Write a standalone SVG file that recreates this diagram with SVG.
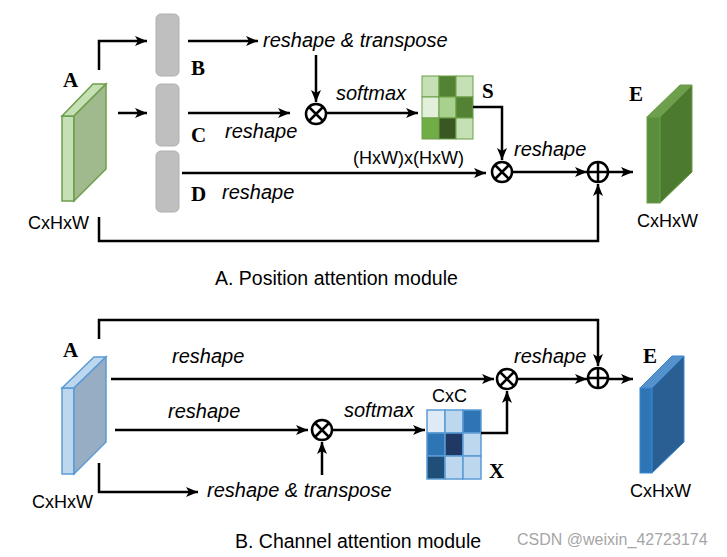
<svg xmlns="http://www.w3.org/2000/svg" width="727" height="557" viewBox="0 0 727 557">
<style>
.ln{fill:none;stroke:#000;stroke-width:2.5;marker-end:url(#ah)}
.ln0{fill:none;stroke:#000;stroke-width:2.5}
.op{fill:#fff;stroke:#000;stroke-width:2.5}
.lbl{font-family:"Liberation Serif",serif;font-weight:bold;font-size:21px;fill:#000}
.it{font-family:"Liberation Sans",Arial,sans-serif;font-style:italic;font-size:20px;fill:#000}
.tx{font-family:"Liberation Sans",Arial,sans-serif;font-size:18px;fill:#000}
.ttl{font-family:"Liberation Sans",Arial,sans-serif;font-size:19.5px;fill:#000}
.bar{fill:#bfbfbf;stroke:#b0b0b0;stroke-width:1}
.gc{stroke:#6a9f46;stroke-width:1}
.bc{stroke:#5b9bd5;stroke-width:1.5}
</style>
<defs>
<marker id="ah" markerUnits="userSpaceOnUse" markerWidth="14" markerHeight="12" refX="12" refY="5" orient="auto" overflow="visible">
<path d="M0,0 L12,5 L0,10 L3,5 z" fill="#000"/>
</marker>
</defs>
<rect width="727" height="557" fill="#fff"/>

<!-- Top module: Position attention -->
<g id="pamA">
<rect x="62" y="116" width="12" height="85" fill="#c5e0b4" stroke="#6d9e4b" stroke-width="1.5"/>
<polygon points="62,116 93,84 106,84 74,116" fill="#c5e0b4" stroke="#6d9e4b" stroke-width="1.5"/>
<polygon points="74,116 106,84 106,169 74,201" fill="#a0b98d" stroke="#6d9e4b" stroke-width="1.5"/>
<text class="lbl" x="63" y="87">A</text>
<text class="tx" x="28" y="229">CxHxW</text>
</g>
<g id="pamB">
<rect class="bar" x="156" y="14" width="23" height="62" rx="5"/>
<text class="lbl" x="191" y="75">B</text>
</g>
<g id="pamC">
<rect class="bar" x="156" y="84" width="23" height="62" rx="5"/>
<text class="lbl" x="191" y="142">C</text>
</g>
<g id="pamD">
<rect class="bar" x="156" y="151" width="23" height="61" rx="5"/>
<text class="lbl" x="191" y="201">D</text>
</g>
<g id="pamMul1">
<circle class="op" cx="316" cy="114" r="10"/>
<path class="ln0" d="M309,107 L323,121 M323,107 L309,121" stroke-width="1.8"/>
</g>
<g id="pamS">
<rect class="gc" x="422" y="76" width="17" height="21" fill="#c5e0b4"/>
<rect class="gc" x="439" y="76" width="17" height="21" fill="#548235"/>
<rect class="gc" x="456" y="76" width="17" height="21" fill="#c5e0b4"/>
<rect class="gc" x="422" y="97" width="17" height="21" fill="#e2efda"/>
<rect class="gc" x="439" y="97" width="17" height="21" fill="#a9d18e"/>
<rect class="gc" x="456" y="97" width="17" height="21" fill="#548235"/>
<rect class="gc" x="422" y="118" width="17" height="21" fill="#70ad47"/>
<rect class="gc" x="439" y="118" width="17" height="21" fill="#385723"/>
<rect class="gc" x="456" y="118" width="17" height="21" fill="#c5e0b4"/>
<text class="lbl" x="482" y="98">S</text>
</g>
<g id="pamMul2">
<circle class="op" cx="502" cy="172" r="10"/>
<path class="ln0" d="M495,165 L509,179 M509,165 L495,179" stroke-width="1.8"/>
</g>
<g id="pamAdd">
<circle class="op" cx="598" cy="172" r="10"/>
<path class="ln0" d="M588,172 H608 M598,162 V182" stroke-width="1.8"/>
</g>
<g id="pamE">
<rect x="647" y="117" width="13" height="86" fill="#5a8e3c" stroke="#6a9d48" stroke-width="1"/>
<polygon points="647,117 680,85 692,85 660,117" fill="#6d9f4c" stroke="#6a9d48" stroke-width="1"/>
<polygon points="660,117 692,85 692,172 660,203" fill="#4c7b30" stroke="#6a9d48" stroke-width="1"/>
<text class="lbl" x="629" y="101">E</text>
<text class="tx" x="637" y="227">CxHxW</text>
</g>
<g id="pamTexts">
<text class="it" x="263" y="47">reshape &amp; transpose</text>
<text class="it" x="225" y="138">reshape</text>
<text class="it" x="336" y="100">softmax</text>
<text class="tx" x="353" y="164" font-size="20.5">(HxW)x(HxW)</text>
<text class="it" x="222" y="199">reshape</text>
<text class="it" x="514" y="156">reshape</text>
<text class="ttl" x="215" y="285">A. Position attention module</text>
</g>

<!-- Bottom module: Channel attention -->
<g id="camA">
<rect x="62" y="388" width="12" height="86" fill="#bdd7ee" stroke="#5b9bd5" stroke-width="1.5"/>
<polygon points="62,388 94,357 106,357 74,388" fill="#bdd7ee" stroke="#5b9bd5" stroke-width="1.5"/>
<polygon points="74,388 106,357 106,442 74,474" fill="#97adc4" stroke="#5b9bd5" stroke-width="1.5"/>
<text class="lbl" x="63" y="357">A</text>
<text class="tx" x="32" y="508">CxHxW</text>
</g>
<g id="camMul1">
<circle class="op" cx="322" cy="430" r="10"/>
<path class="ln0" d="M315,423 L329,437 M329,423 L315,437" stroke-width="1.8"/>
</g>
<g id="camX">
<rect class="bc" x="427" y="410" width="18" height="23" fill="#deebf7"/>
<rect class="bc" x="445" y="410" width="18" height="23" fill="#bdd7ee"/>
<rect class="bc" x="463" y="410" width="18" height="23" fill="#2e75b6"/>
<rect class="bc" x="427" y="433" width="18" height="23" fill="#2e75b6"/>
<rect class="bc" x="445" y="433" width="18" height="23" fill="#203864"/>
<rect class="bc" x="463" y="433" width="18" height="23" fill="#bdd7ee"/>
<rect class="bc" x="427" y="456" width="18" height="23" fill="#1f4e79"/>
<rect class="bc" x="445" y="456" width="18" height="23" fill="#bdd7ee"/>
<rect class="bc" x="463" y="456" width="18" height="23" fill="#bdd7ee"/>
<text class="tx" x="432" y="402" font-size="17">CxC</text>
<text class="lbl" x="489" y="478">X</text>
</g>
<g id="camMul2">
<circle class="op" cx="507" cy="379" r="10"/>
<path class="ln0" d="M500,372 L514,386 M514,372 L500,386" stroke-width="1.8"/>
</g>
<g id="camAdd">
<circle class="op" cx="598" cy="378" r="10"/>
<path class="ln0" d="M588,378 H608 M598,368 V388" stroke-width="1.8"/>
</g>
<g id="camE">
<rect x="640" y="388" width="12" height="85" fill="#2e75b6" stroke="#3b86d1" stroke-width="1"/>
<polygon points="640,388 672,356 684,356 652,388" fill="#5592cc" stroke="#3b86d1" stroke-width="1"/>
<polygon points="652,388 684,356 684,442 652,473" fill="#295f92" stroke="#3b86d1" stroke-width="1"/>
<text class="lbl" x="643" y="363">E</text>
<text class="tx" x="630" y="497">CxHxW</text>
</g>
<g id="camTexts">
<text class="it" x="172" y="363">reshape</text>
<text class="it" x="168" y="418">reshape</text>
<text class="it" x="344" y="417">softmax</text>
<text class="it" x="514" y="363">reshape</text>
<text class="it" x="207" y="497">reshape &amp; transpose</text>
<text class="ttl" x="235" y="548">B. Channel attention module</text>
</g>
<text x="517" y="545" font-family="Liberation Sans,Arial,sans-serif" font-size="16" fill="#a6a6a6">CSDN @weixin_42723174</text>

<g id="connectors">
<path class="ln" d="M99,70 V41 H147"/>
<path class="ln" d="M188,41 H258"/>
<path class="ln" d="M316,55 V102"/>
<path class="ln" d="M118,113 H147"/>
<path class="ln" d="M188,113 H290"/>
<path class="ln" d="M327,113 H418"/>
<path class="ln" d="M473,107 H502 V160"/>
<path class="ln" d="M182,173 H486"/>
<path class="ln" d="M512,172 H587"/>
<path class="ln" d="M608,172 H633"/>
<path class="ln" d="M99,217 V241 H598 V184"/>
<path class="ln" d="M99,339 V320 H598 V366"/>
<path class="ln" d="M111,379 H494"/>
<path class="ln" d="M517,379 H587"/>
<path class="ln" d="M608,379 H633"/>
<path class="ln" d="M115,430 H308"/>
<path class="ln" d="M322,475 V442"/>
<path class="ln" d="M332,430 H425"/>
<path class="ln" d="M481,433 H507 V391"/>
<path class="ln" d="M99,463 V492 H198"/>
</g>
</svg>
